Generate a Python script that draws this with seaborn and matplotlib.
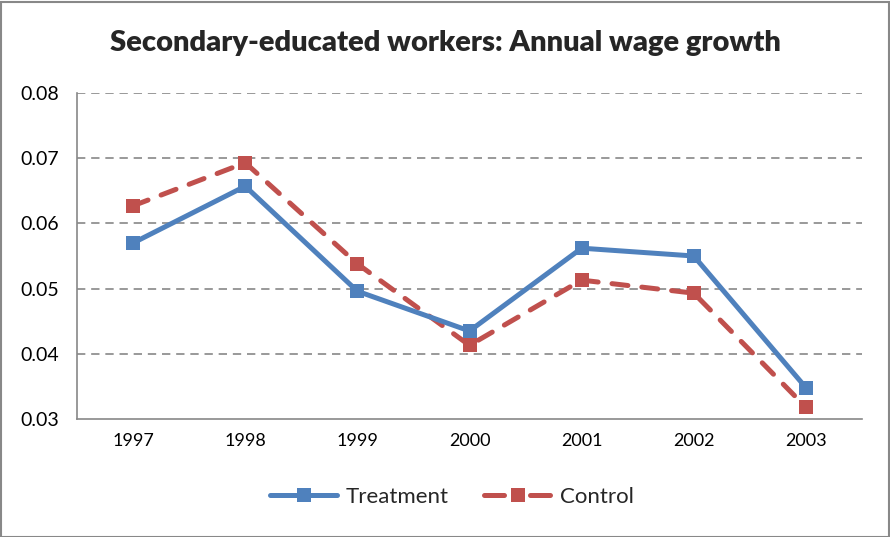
import matplotlib
matplotlib.use("Agg")
import matplotlib.pyplot as plt
import seaborn as sns
import pandas as pd
from matplotlib.lines import Line2D

years = ["1997", "1998", "1999", "2000", "2001", "2002", "2003"]
treatment = [0.0570, 0.0657, 0.0496, 0.0435, 0.0562, 0.0550, 0.0348]
control = [0.0627, 0.0693, 0.0538, 0.0413, 0.0513, 0.0493, 0.0318]
yticks = [0.03, 0.04, 0.05, 0.06, 0.07, 0.08]
title = "Secondary-educated workers: Annual wage growth"

sns.set_theme(style="white")
plt.rcParams['font.family'] = ['Lato', 'DejaVu Sans']

blue = "#4F81BD"
red = "#C0504D"

fig = plt.figure(figsize=(8.9, 5.37), dpi=100)
ax = fig.add_axes([77/890, 1 - 419/537, (862-77)/890, (419-93)/537])

df = pd.DataFrame({"year": list(range(len(years))) * 2,
                   "value": treatment + control,
                   "series": ["Treatment"] * len(years) + ["Control"] * len(years)})

sns.lineplot(data=df[df.series == "Treatment"], x="year", y="value", ax=ax,
             color=blue, lw=3.6, marker="s", markersize=10, markeredgewidth=0,
             zorder=3, legend=False)
sns.lineplot(data=df[df.series == "Control"], x="year", y="value", ax=ax,
             color=red, lw=3.6, marker="s", markersize=10, markeredgewidth=0,
             linestyle=(0, (3.2, 2.8)), dash_capstyle="round", zorder=2, legend=False)

ax.set_xlim(-0.5, len(years) - 0.5)
ax.set_ylim(0.03, 0.08)
ax.set_yticks(yticks)
ax.set_yticklabels([f"{t:.2f}" for t in yticks])
ax.set_xticks(range(len(years)))
ax.set_xticklabels(years)
ax.set_xlabel("")
ax.set_ylabel("")
ax.tick_params(axis="y", labelsize=14, length=0, colors="black", pad=13)
ax.tick_params(axis="x", labelsize=13, length=0, colors="black", pad=10)
for t in yticks[1:]:
    ax.axhline(t, color="#888888", lw=1.2, ls=(0, (5, 3.5)), zorder=1)
for s in ["top", "right"]:
    ax.spines[s].set_visible(False)
for s in ["left", "bottom"]:
    ax.spines[s].set_color("#888888")
    ax.spines[s].set_linewidth(1.2)

fig.text(445/890, 1 - 43/537, title, ha="center", va="center",
         fontsize=21, fontweight="heavy")

handles = [Line2D([], [], color=blue, lw=3.6, marker="s", markersize=10, markeredgewidth=0,
                  solid_capstyle="round"),
           Line2D([], [], color=red, lw=3.6, marker="s", markersize=10, markeredgewidth=0,
                  linestyle=(0, (4.0, 5.2)), dash_capstyle="round")]
fig.legend(handles, ["Treatment", "Control"], loc="center",
           bbox_to_anchor=(452/890, 1 - 497/537), ncol=2, frameon=False,
           fontsize=16, handlelength=3.0, columnspacing=1.6, handletextpad=0.4)

fig.patches.append(plt.Rectangle((0.5/890, 0.5/537), 888/890, 535/537,
                                 transform=fig.transFigure, fill=False,
                                 edgecolor="#888888", lw=1.5))

fig.savefig("out.png", dpi=100)
